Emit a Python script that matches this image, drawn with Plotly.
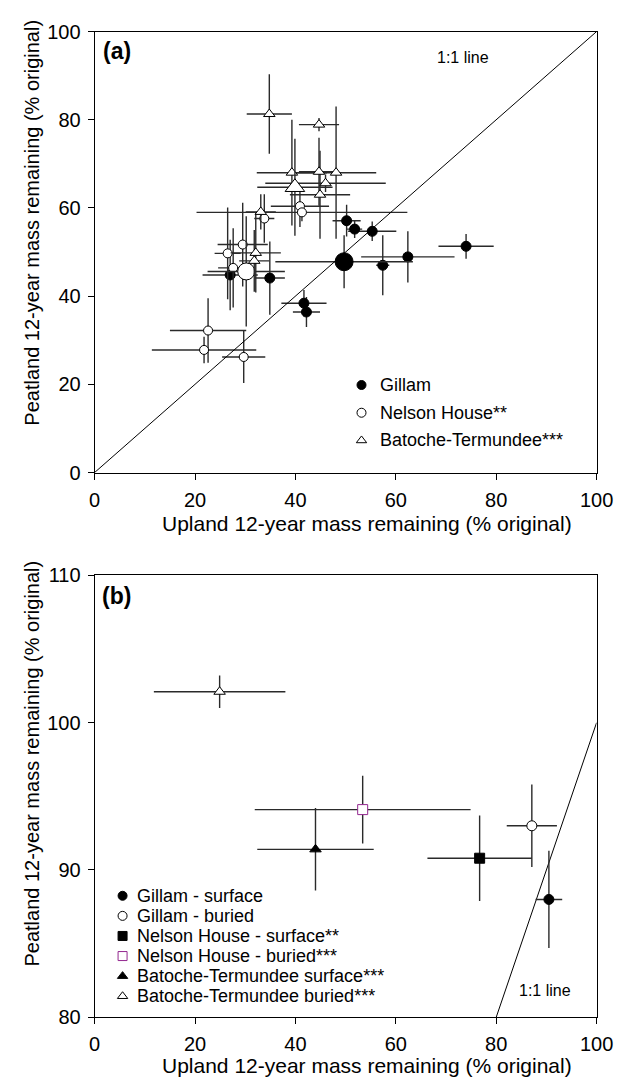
import plotly.graph_objects as go

W, H = 629, 1091
FONT = "Liberation Sans, Arial, Helvetica, sans-serif"

# ---------------- data: panel (a) ----------------
gillam_x = [50.2, 51.8, 55.3, 57.4, 62.4, 74.0, 41.7, 42.2, 34.9, 27.0]
gillam_y = [57.1, 55.2, 54.7, 47.0, 48.9, 51.3, 38.4, 36.4, 44.1, 44.8]
gillam_xerr = [2.8, 1.5, 4.8, 1.3, 9.3, 5.5, 4.5, 2.7, 3.0, 5.5]
gillam_yerr = [3.6, 2.0, 2.2, 6.8, 5.8, 2.8, 3.0, 3.4, 8.3, 8.0]
gillam_mean = [49.7, 47.8]
gillam_mean_err = [13.7, 6.0]

nelson_x = [40.9, 41.3, 33.8, 29.5, 26.5, 27.6, 22.6, 21.8, 29.7]
nelson_y = [60.4, 59.0, 57.6, 51.7, 49.7, 46.4, 32.2, 27.8, 26.2]
nelson_xerr = [5.8, 21.0, 2.0, 5.0, 2.6, 3.0, 7.6, 10.4, 4.3]
nelson_yerr = [4.7, 2.0, 5.5, 9.5, 10.4, 9.0, 7.3, 3.0, 5.9]
nelson_mean = [30.2, 45.6]
nelson_mean_err = [7.7, 12.5]

bat_x = [34.8, 44.7, 39.3, 44.7, 48.1, 46.0, 44.9, 33.1, 32.1, 31.8]
bat_y = [81.3, 78.9, 68.0, 68.2, 68.0, 65.6, 63.0, 59.1, 49.8, 48.0]
bat_xerr = [4.5, 4.0, 7.0, 4.0, 8.0, 12.0, 6.0, 3.0, 5.0, 3.0]
bat_yerr = [9.0, 1.5, 12.0, 7.7, 15.0, 2.0, 10.0, 4.0, 9.0, 7.0]
bat_mean = [39.9, 64.7]
bat_mean_err = [7.5, 11.0]

legend_a = ["Gillam", "Nelson House**", "Batoche-Termundee***"]

# ---------------- data: panel (b) ----------------
b_labels = ["Gillam - surface", "Gillam - buried", "Nelson House - surface**",
            "Nelson House - buried***", "Batoche-Termundee surface***",
            "Batoche-Termundee buried***"]
b_x = [90.5, 87.1, 76.7, 53.4, 44.0, 24.9]
b_y = [88.0, 93.0, 90.8, 94.1, 91.4, 102.1]
b_xerr = [2.65, 5.0, 10.4, 21.5, 11.6, 13.1]
b_yerr = [3.3, 2.8, 2.9, 2.3, 2.8, 1.1]

one_to_one = [0, 100]
ticks_x = [0, 20, 40, 60, 80, 100]
ticks_ya = [0, 20, 40, 60, 80, 100]
ticks_yb = [80, 90, 100, 110]

# ---------------- styles ----------------
b_symbols = ["circle", "circle", "square", "square", "triangle-up", "triangle-up"]
b_fill = ["black", "white", "black", "white", "black", "white"]
b_line = ["black", "black", "black", "#93278F", "black", "black"]

ERR = "#2a2a2a"

# pixel layout
XL, XR = 92, 613
A_T, A_B = 21, 471
B_T, B_B = 576, 1027


def px_x(p):
    return (p - XL) / (XR - XL) * 100


def px_ya(p):
    return (A_B - p) / (A_B - A_T) * 100


def px_yb(p):
    return 80 + (B_B - p) / (B_B - B_T) * 30


fig = go.Figure()


def err(a, vis=True):
    return dict(type="data", array=a, visible=vis, color=ERR, thickness=1.4, width=0)


# Panel (a)
fig.add_trace(go.Scatter(x=gillam_x, y=gillam_y, mode="markers",
                         error_x=err(gillam_xerr), error_y=err(gillam_yerr),
                         marker=dict(symbol="circle", size=10, color="black",
                                     line=dict(color="black", width=1)),
                         xaxis="x", yaxis="y", showlegend=False))
fig.add_trace(go.Scatter(x=[gillam_mean[0]], y=[gillam_mean[1]], mode="markers",
                         error_x=err([gillam_mean_err[0]]), error_y=err([gillam_mean_err[1]]),
                         marker=dict(symbol="circle", size=18, color="black",
                                     line=dict(color="black", width=1)),
                         xaxis="x", yaxis="y", showlegend=False))
fig.add_trace(go.Scatter(x=nelson_x, y=nelson_y, mode="markers",
                         error_x=err(nelson_xerr), error_y=err(nelson_yerr),
                         marker=dict(symbol="circle", size=9, color="white",
                                     line=dict(color="black", width=1)),
                         xaxis="x", yaxis="y", showlegend=False))
fig.add_trace(go.Scatter(x=[nelson_mean[0]], y=[nelson_mean[1]], mode="markers",
                         error_x=err([nelson_mean_err[0]]), error_y=err([nelson_mean_err[1]]),
                         marker=dict(symbol="circle", size=17, color="white",
                                     line=dict(color="black", width=1)),
                         xaxis="x", yaxis="y", showlegend=False))
fig.add_trace(go.Scatter(x=bat_x, y=bat_y, mode="markers",
                         error_x=err(bat_xerr), error_y=err(bat_yerr),
                         marker=dict(symbol="triangle-up", size=10, color="white",
                                     line=dict(color="black", width=1)),
                         xaxis="x", yaxis="y", showlegend=False))
fig.add_trace(go.Scatter(x=[bat_mean[0]], y=[bat_mean[1]], mode="markers",
                         error_x=err([bat_mean_err[0]]), error_y=err([bat_mean_err[1]]),
                         marker=dict(symbol="triangle-up", size=17, color="white",
                                     line=dict(color="black", width=1)),
                         xaxis="x", yaxis="y", showlegend=False))
fig.add_trace(go.Scatter(x=one_to_one, y=one_to_one, mode="lines",
                         line=dict(color="black", width=1),
                         xaxis="x", yaxis="y", showlegend=False))

# Legend (a) keys
leg_a_rows = [381.7, 410.0, 438.3]
leg_a_sym = ["circle", "circle", "triangle-up"]
leg_a_fill = ["black", "white", "white"]
for i, lab in enumerate(legend_a):
    fig.add_trace(go.Scatter(x=[px_x(369)], y=[px_ya(leg_a_rows[i])], mode="markers",
                             marker=dict(symbol=leg_a_sym[i], size=9, color=leg_a_fill[i],
                                         line=dict(color="black", width=1)),
                             xaxis="x", yaxis="y", showlegend=False, hoverinfo="skip"))

# Panel (b)
fig.add_trace(go.Scatter(x=one_to_one, y=one_to_one, mode="lines",
                         line=dict(color="black", width=1),
                         xaxis="x2", yaxis="y2", showlegend=False))
for i in range(len(b_x)):
    fig.add_trace(go.Scatter(x=[b_x[i]], y=[b_y[i]], mode="markers",
                             error_x=err([b_xerr[i]]), error_y=err([b_yerr[i]]),
                             marker=dict(symbol=b_symbols[i], size=10, color=b_fill[i],
                                         line=dict(color=b_line[i], width=1)),
                             xaxis="x2", yaxis="y2", showlegend=False))

leg_b_rows = [903, 923.5, 944, 964.5, 985, 1005.5]
for i, lab in enumerate(b_labels):
    fig.add_trace(go.Scatter(x=[px_x(121)], y=[px_yb(leg_b_rows[i])], mode="markers",
                             marker=dict(symbol=b_symbols[i], size=9, color=b_fill[i],
                                         line=dict(color=b_line[i], width=1)),
                             xaxis="x2", yaxis="y2", showlegend=False, hoverinfo="skip",
                             cliponaxis=False))

ax_common = dict(showgrid=False, zeroline=False, showline=True, linecolor="black",
                 linewidth=1, mirror=True, ticks="outside", ticklen=6, tickwidth=1,
                 tickcolor="black", ticklabeloverflow="allow", ticklabelstandoff=3,
                 tickfont=dict(size=20, color="black", family=FONT))

xd = [XL / W, XR / W]
fig.update_layout(
    width=W, height=H, margin=dict(l=0, r=0, t=0, b=0),
    paper_bgcolor="white", plot_bgcolor="white",
    font=dict(family=FONT, color="black"),
    xaxis=dict(domain=xd, range=[0, 100], tickvals=ticks_x, anchor="y", **ax_common),
    yaxis=dict(domain=[1 - A_B / H, 1 - A_T / H], range=[0, 100], tickvals=ticks_ya,
               anchor="x", **ax_common),
    xaxis2=dict(domain=xd, range=[0, 100], tickvals=ticks_x, anchor="y2", **ax_common),
    yaxis2=dict(domain=[1 - B_B / H, 1 - B_T / H], range=[80, 110], tickvals=ticks_yb,
                anchor="x2", **ax_common),
)

ann = []


def text(x, y, s, size, anchor="left", angle=0, bold=False):
    ann.append(dict(x=x / W, y=1 - y / H, xref="paper", yref="paper", text=("<b>%s</b>" % s) if bold else s,
                    showarrow=False, xanchor=anchor, yanchor="middle", textangle=angle,
                    font=dict(size=size, family=FONT, color="black")))


text(99, 41, "(a)", 23, bold=True)
text(98, 597, "(b)", 23, bold=True)
text(474, 47, "1:1 line", 16, anchor="center")
text(559, 1000, "1:1 line", 16, anchor="center")
for i, lab in enumerate(legend_a):
    text(386, leg_a_rows[i], lab, 18)
for i, lab in enumerate(b_labels):
    text(134, leg_b_rows[i], lab, 18)
xt = "Upland 12-year mass remaining (% original)"
yt = "Peatland 12-year mass remaining (% original)"
text(375, 523, xt, 21, anchor="center")
text(375, 1076, xt, 21, anchor="center")
text(27, 216, yt, 20, anchor="center", angle=-90)
text(27, 768, yt, 20, anchor="center", angle=-90)

fig.update_layout(annotations=ann)
fig.write_html("out.html")
